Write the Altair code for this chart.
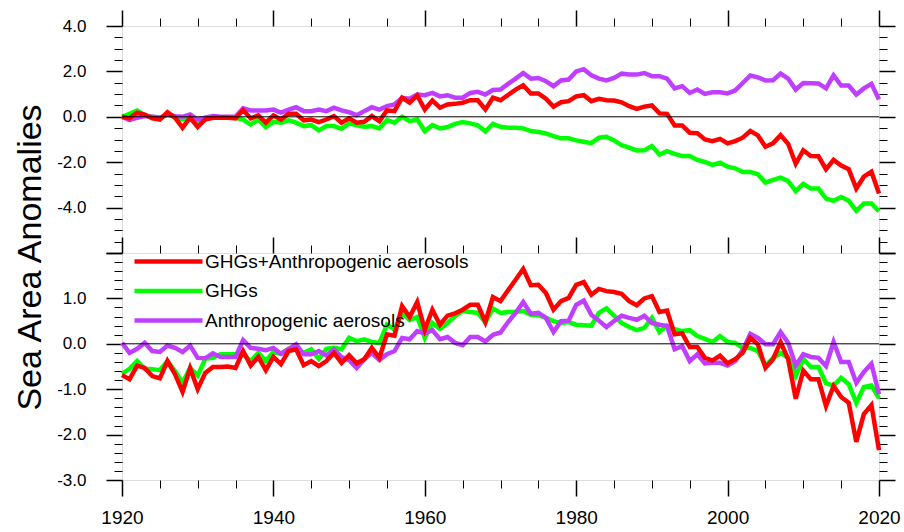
import altair as alt
import pandas as pd

years = list(range(1920, 2021))

series_names = ["GHGs+Anthropogenic aerosols", "GHGs", "Anthropogenic aerosols"]
series_colors = ["#ff0000", "#00ff00", "#bf3eff"]

top_red = [0.00, -0.07, 0.18, 0.10, -0.07, -0.12, 0.20, -0.04, -0.48, -0.04,
           -0.45, -0.12, -0.04, -0.04, -0.04, -0.07, 0.30, -0.07, 0.06, -0.26,
           0.06, -0.12, 0.13, 0.13, -0.16, -0.12, -0.23, -0.12, 0.03, -0.26,
           -0.07, -0.26, -0.22, 0.03, -0.19, 0.28, 0.25, 0.84, 0.62, 0.94,
           0.32, 0.72, 0.40, 0.54, 0.57, 0.62, 0.73, 0.73, 0.32, 0.84,
           0.73, 0.96, 1.20, 1.39, 1.03, 1.03, 0.80, 0.45, 0.64, 0.69,
           0.90, 0.95, 0.69, 0.79, 0.73, 0.72, 0.64, 0.47, 0.35, 0.45,
           0.50, 0.15, 0.13, -0.38, -0.38, -0.70, -0.72, -1.00, -1.07, -0.97,
           -1.17, -1.07, -0.92, -0.63, -0.82, -1.32, -1.17, -0.81, -1.19, -2.07,
           -1.48, -1.73, -1.74, -2.31, -1.90, -2.15, -2.31, -3.16, -2.64, -2.42,
           -3.38]
top_green = [0.00, 0.13, 0.28, 0.06, 0.00, -0.07, 0.10, 0.00, -0.12, -0.04,
             -0.22, -0.04, -0.02, -0.04, -0.04, -0.04, -0.12, -0.34, -0.12, -0.45,
             -0.22, -0.26, -0.16, -0.26, -0.41, -0.37, -0.60, -0.41, -0.41, -0.53,
             -0.29, -0.37, -0.44, -0.41, -0.51, -0.15, -0.26, 0.00, -0.19, -0.12,
             -0.63, -0.37, -0.51, -0.45, -0.31, -0.23, -0.29, -0.37, -0.65, -0.31,
             -0.44, -0.48, -0.48, -0.51, -0.63, -0.67, -0.73, -0.85, -0.95, -0.95,
             -1.04, -1.10, -1.16, -0.92, -0.88, -1.04, -1.25, -1.36, -1.48, -1.47,
             -1.29, -1.66, -1.51, -1.63, -1.73, -1.73, -1.90, -1.99, -2.12, -2.02,
             -2.20, -2.27, -2.43, -2.43, -2.53, -2.90, -2.78, -2.68, -2.83, -3.27,
             -2.95, -3.16, -3.16, -3.60, -3.70, -3.53, -3.70, -4.14, -3.82, -3.82,
             -4.16]
top_purple = [0.00, -0.15, -0.04, 0.03, 0.00, -0.03, 0.10, 0.03, 0.00, 0.10,
              -0.12, -0.04, 0.03, 0.00, 0.00, 0.00, 0.37, 0.28, 0.28, 0.28,
              0.32, 0.19, 0.32, 0.42, 0.25, 0.25, 0.32, 0.25, 0.40, 0.28,
              0.20, 0.07, 0.25, 0.42, 0.32, 0.47, 0.54, 0.84, 0.80, 0.98,
              0.95, 1.05, 0.90, 0.95, 0.84, 0.84, 1.05, 1.10, 0.98, 1.18,
              1.20, 1.45, 1.68, 1.93, 1.68, 1.71, 1.57, 1.35, 1.60, 1.64,
              2.00, 2.10, 1.83, 1.68, 1.60, 1.71, 1.90, 1.86, 1.86, 1.93,
              1.79, 1.79, 1.68, 1.25, 1.35, 1.05, 1.20, 1.01, 1.08, 1.08,
              1.03, 1.16, 1.49, 1.82, 1.74, 1.60, 1.61, 1.90, 1.68, 1.20,
              1.49, 1.48, 1.47, 1.25, 1.83, 1.38, 1.38, 0.98, 1.25, 1.45,
              0.76]

bot_red = [-0.69, -0.78, -0.48, -0.53, -0.71, -0.76, -0.38, -0.67, -1.06, -0.54,
           -1.00, -0.64, -0.51, -0.51, -0.50, -0.53, -0.16, -0.48, -0.29, -0.58,
           -0.29, -0.45, -0.16, -0.12, -0.47, -0.38, -0.49, -0.38, -0.20, -0.42,
           -0.25, -0.43, -0.34, -0.09, -0.31, 0.21, 0.18, 0.83, 0.59, 0.92,
           0.31, 0.75, 0.42, 0.62, 0.67, 0.75, 0.86, 0.86, 0.48, 1.03,
           0.94, 1.18, 1.41, 1.65, 1.29, 1.30, 1.12, 0.75, 0.94, 1.01,
           1.30, 1.36, 1.08, 1.21, 1.16, 1.14, 1.10, 0.94, 0.85, 1.00,
           1.05, 0.70, 0.73, 0.21, 0.23, -0.07, -0.07, -0.31, -0.37, -0.26,
           -0.43, -0.34, -0.20, 0.13, -0.01, -0.53, -0.34, 0.04, -0.34, -1.21,
           -0.59, -0.78, -0.78, -1.37, -0.93, -1.17, -1.30, -2.16, -1.55, -1.35,
           -2.34]
bot_green = [-0.66, -0.55, -0.38, -0.55, -0.56, -0.58, -0.38, -0.60, -0.86, -0.53,
             -0.70, -0.33, -0.31, -0.23, -0.23, -0.23, -0.22, -0.38, -0.20, -0.38,
             -0.18, -0.22, -0.11, -0.11, -0.20, -0.12, -0.33, -0.11, -0.09, -0.12,
             0.13, 0.06, 0.10, 0.04, 0.02, 0.42, 0.31, 0.68, 0.52, 0.59,
             0.13, 0.46, 0.33, 0.46, 0.61, 0.72, 0.70, 0.68, 0.47, 0.78,
             0.68, 0.70, 0.70, 0.72, 0.64, 0.63, 0.57, 0.50, 0.46, 0.48,
             0.42, 0.41, 0.40, 0.68, 0.78, 0.62, 0.46, 0.37, 0.30, 0.35,
             0.57, 0.26, 0.40, 0.32, 0.28, 0.30, 0.17, 0.11, 0.04, 0.17,
             0.04, 0.02, -0.09, -0.09, -0.16, -0.48, -0.32, -0.20, -0.31, -0.71,
             -0.33, -0.51, -0.51, -0.87, -0.92, -0.75, -0.89, -1.30, -0.95, -0.92,
             -1.20]
bot_purple = [0.02, -0.20, -0.11, 0.02, -0.16, -0.18, -0.04, -0.09, -0.18, -0.04,
              -0.31, -0.32, -0.21, -0.29, -0.29, -0.29, 0.08, -0.09, -0.11, -0.14,
              -0.09, -0.22, -0.12, -0.01, -0.23, -0.23, -0.16, -0.26, -0.12, -0.29,
              -0.36, -0.53, -0.34, -0.20, -0.36, -0.23, -0.16, 0.13, 0.10, 0.28,
              0.23, 0.30, 0.10, 0.15, 0.02, -0.03, 0.15, 0.15, 0.05, 0.20,
              0.25, 0.48, 0.68, 0.92, 0.66, 0.68, 0.57, 0.26, 0.50, 0.51,
              0.86, 0.95, 0.64, 0.51, 0.37, 0.50, 0.62, 0.57, 0.53, 0.62,
              0.46, 0.42, 0.39, -0.12, -0.05, -0.38, -0.23, -0.43, -0.42, -0.42,
              -0.48, -0.38, -0.14, 0.22, 0.13, -0.01, -0.01, 0.26, 0.02, -0.48,
              -0.23, -0.29, -0.31, -0.49, 0.04, -0.40, -0.40, -0.86, -0.62, -0.44,
              -1.11]

x_major = [1920, 1940, 1960, 1980, 2000, 2020]
x_minor = [y for y in range(1920, 2021, 5) if y % 20]
top_domain = [-6, 4]
top_y_major = [-6, -4, -2, 0, 2, 4]
top_y_minor = [v / 2 for v in range(-12, 9) if v % 4]
bot_domain = [-3, 2]
bot_y_major = [-3, -2, -1, 0, 1, 2]
bot_y_minor = [round(-3 + 0.2 * i, 1) for i in range(26) if i % 5]
y_title = "Sea Area Anomalies"

FONT = "Liberation Sans"
W, H = 757, 227


def long_df(red, green, purple):
    rows = []
    # draw order: green, purple, red (red on top)
    for name, vals in ((series_names[1], green), (series_names[2], purple), (series_names[0], red)):
        for yr, v in zip(years, vals):
            rows.append({"year": yr, "value": v, "series": name})
    return pd.DataFrame(rows)


dummy = pd.DataFrame({"x": [1920], "y": [0]})
zero_df = pd.DataFrame({"z": [0]})


def panel(df, ydom, ymaj, ymin, blank_label, with_bottom, legend):
    xs = alt.Scale(domain=[1920, 2020], nice=False, zero=False)
    ys = alt.Scale(domain=ydom, nice=False, zero=False)

    lines = alt.Chart(df).mark_line(strokeWidth=4.5).encode(
        x=alt.X("year:Q", scale=xs, axis=None),
        y=alt.Y("value:Q", scale=ys, axis=None),
        color=alt.Color("series:N",
                        scale=alt.Scale(domain=series_names, range=series_colors),
                        legend=legend),
    )
    zero = alt.Chart(zero_df).mark_rule(color="black", strokeWidth=1).encode(
        y=alt.Y("z:Q", scale=ys, axis=None)
    )

    def ax(channel, orient, values, size, width, labels=False, **kw):
        kw.setdefault("title", None)
        a = alt.Axis(orient=orient, values=values, tickSize=size, tickWidth=width,
                     tickColor="black", domain=False, grid=False, labels=labels,
                     labelFlush=False, labelOverlap=False, **kw)
        if channel == "y":
            enc = dict(x=alt.X("x:Q", scale=xs, axis=None), y=alt.Y("y:Q", scale=ys, axis=a))
        else:
            enc = dict(x=alt.X("x:Q", scale=xs, axis=a), y=alt.Y("y:Q", scale=ys, axis=None))
        return alt.Chart(dummy).mark_point(opacity=0).encode(**enc)

    ylab = ("datum.value == %s ? '' : replace(format(datum.value, '.1f'), '\u2212', '-')"
            % blank_label)
    left_kw = dict(labelExpr=ylab, labelFont=FONT, labelFontSize=17,
                   labelColor="black", labelPadding=20)
    if with_bottom:
        left_kw.update(title=y_title, titleX=-92, titleY=4, titleAngle=-90,
                       titleAlign="center", titleBaseline="middle",
                       titleFont=FONT, titleFontSize=34, titleFontWeight="normal",
                       titleColor="black")
    layers = [
        lines, zero,
        ax("y", "left", ymaj, 16, 1.5, labels=True, **left_kw),
        ax("y", "left", ymin, 8, 1),
        ax("y", "right", ymaj, 16, 1.5),
        ax("y", "right", ymin, 8, 1),
        ax("x", "top", x_major, 16, 1.5),
        ax("x", "top", x_minor, 8, 1),
    ]
    if with_bottom:
        layers += [
            ax("x", "bottom", x_major, 16, 1.5, labels=True, format="d",
               labelFont=FONT, labelFontSize=19, labelColor="black", labelPadding=12),
            ax("x", "bottom", x_minor, 8, 1),
        ]
    return alt.layer(*layers).resolve_scale(x="independent", y="independent").properties(
        width=W, height=H)


legend = alt.Legend(
    orient="none", legendX=12, legendY=-4, title=None,
    symbolType="M-1.2,0H5.6", symbolSize=400, symbolStrokeWidth=4.5,
    labelFont=FONT, labelFontSize=19, labelColor="black", labelOffset=46,
    labelLimit=0, rowPadding=6.5, padding=0,
)

top = panel(long_df(top_red, top_green, top_purple), top_domain, top_y_major,
            top_y_minor, -6, False, None)
bottom = panel(long_df(bot_red, bot_green, bot_purple), bot_domain, bot_y_major,
               bot_y_minor, 2, True, legend)

chart = alt.vconcat(top, bottom, spacing=0, bounds="flush").resolve_legend(
    color="independent"
).properties(
    padding={"left": 12, "top": 8, "right": 0, "bottom": 0},
).configure_view(stroke="black", strokeWidth=2).configure(background="white")

chart.save("out.html", embed_options={"renderer": "svg", "actions": False})
